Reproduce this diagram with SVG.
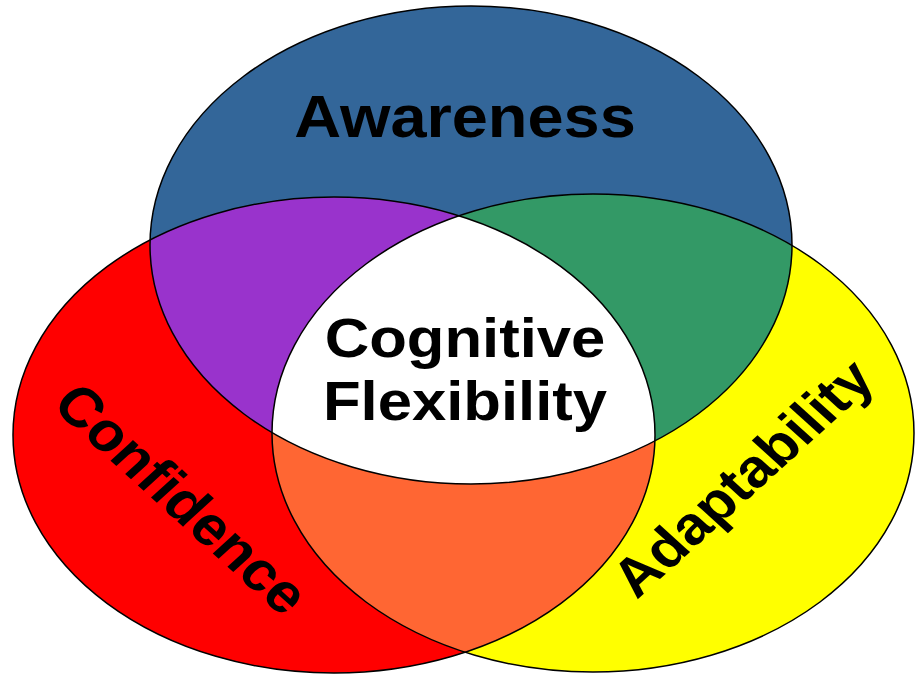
<svg xmlns="http://www.w3.org/2000/svg" width="917" height="677" viewBox="0 0 917 677">
  <style>
    .outline { fill: none; stroke: #000; stroke-width: 1.5; }
    .lbl { font-family: "Liberation Sans", Arial, Helvetica, sans-serif; font-weight: bold; fill: #000; text-anchor: middle; }
  </style>
  <defs>
    <ellipse id="eTop" cx="471" cy="245" rx="321" ry="239"/>
    <ellipse id="eLeft" cx="334" cy="435" rx="321" ry="238"/>
    <ellipse id="eRight" cx="593" cy="433" rx="321" ry="239"/>
    <clipPath id="clipTop"><use href="#eTop"/></clipPath>
    <clipPath id="clipLeft"><use href="#eLeft"/></clipPath>
    <clipPath id="clipRight"><use href="#eRight"/></clipPath>
  </defs>
  <rect width="917" height="677" fill="#fff"/>
  <g id="venn-fills">
    <use href="#eTop" fill="#336699"/>
    <use href="#eLeft" fill="#ff0000"/>
    <use href="#eRight" fill="#ffff00"/>
    <use href="#eTop" fill="#9933cc" clip-path="url(#clipLeft)"/>
    <use href="#eTop" fill="#339966" clip-path="url(#clipRight)"/>
    <use href="#eLeft" fill="#ff6633" clip-path="url(#clipRight)"/>
    <g clip-path="url(#clipLeft)">
      <use href="#eTop" fill="#ffffff" clip-path="url(#clipRight)"/>
    </g>
  </g>
  <g id="node-awareness">
    <use href="#eTop" class="outline"/>
    <text class="lbl" font-size="59" transform="translate(465,137) scale(1.1,1)">Awareness</text>
  </g>
  <g id="node-confidence">
    <use href="#eLeft" class="outline"/>
    <text class="lbl" font-size="55" transform="translate(167,512) scale(1.1,1) rotate(45)">Confidence</text>
  </g>
  <g id="node-adaptability">
    <use href="#eRight" class="outline"/>
    <text class="lbl" font-size="54" transform="translate(757,491) scale(1.1,1) rotate(-45)">Adaptability</text>
  </g>
  <g id="node-cognitive-flexibility">
    <text class="lbl" font-size="56" transform="translate(465,357) scale(1.1,1)">Cognitive</text>
    <text class="lbl" font-size="56" transform="translate(465,420) scale(1.1,1)">Flexibility</text>
  </g>
</svg>
